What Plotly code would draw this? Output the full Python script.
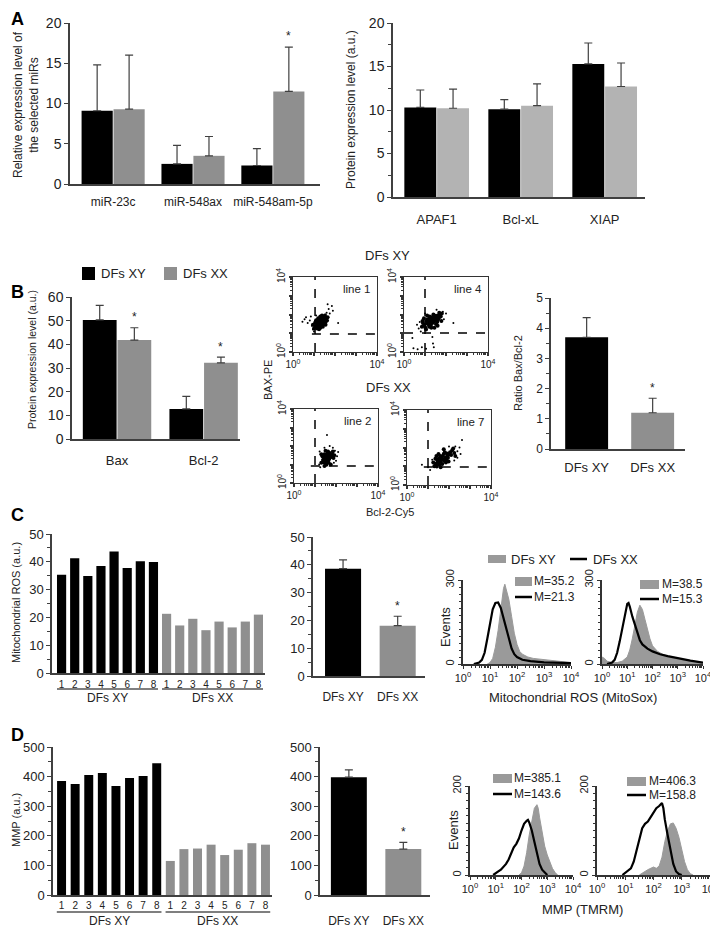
import plotly.graph_objects as go

W, H = 718, 928
OFF = 8  # the page body margin shifts the figure by this many pixels
FONT = "Arial, Liberation Sans, sans-serif"
BLACK = "#000000"
GRAY = "#8f8f8f"
LGRAY = "#b3b3b3"
HGRAY = "#9a9a9a"
AXC = "#404040"
TXT = "#222222"

# ---------------- data ----------------
mir_cats = ["miR-23c", "miR-548ax", "miR-548am-5p"]
mir_xy = [9.1, 2.5, 2.3]
mir_xy_err = [5.7, 2.3, 2.1]
mir_xx = [9.3, 3.5, 11.5]
mir_xx_err = [6.7, 2.4, 5.5]

prot_cats = ["APAF1", "Bcl-xL", "XIAP"]
prot_xy = [10.3, 10.1, 15.3]
prot_xy_err = [2.0, 1.1, 2.4]
prot_xx = [10.2, 10.5, 12.7]
prot_xx_err = [2.2, 2.5, 2.7]

bax_cats = ["Bax", "Bcl-2"]
bax_xy = [50.3, 12.7]
bax_xy_err = [6.2, 5.3]
bax_xx = [41.8, 32.2]
bax_xx_err = [5.2, 2.4]

group_cats = ["DFs XY", "DFs XX"]
ratio_vals = [3.7, 1.2]
ratio_err = [0.65, 0.48]

line_labels = ["1", "2", "3", "4", "5", "6", "7", "8"]
ros_xy = [35.3, 41.3, 34.9, 38.5, 43.7, 37.8, 40.2, 39.9]
ros_xx = [21.3, 17.1, 19.5, 15.4, 18.5, 16.4, 18.5, 21.0]
ros_mean = [38.6, 18.1]
ros_err = [3.2, 3.4]

mmp_xy = [385, 375, 405, 412, 368, 395, 402, 445]
mmp_xx = [115, 155, 157, 170, 135, 153, 175, 170]
mmp_mean = [398, 155]
mmp_err = [25, 23]

# flow cytometry dot plots (log10 units): dense core + sparse events
flow_titles = ["line 1", "line 4", "line 2", "line 7"]
flow_qx = [1.05, 1.0, 1.0, 1.0]
flow_qy = [0.96, 1.01, 0.92, 0.96]
core1 = [(0.95,1.45),(1.05,1.35),(1.05,1.55),(1.10,1.70),(1.15,1.25),(1.15,1.45),(1.18,1.60),(1.20,1.80),(1.22,1.35),(1.25,1.50),(1.27,1.68),(1.30,1.90),(1.30,1.30),(1.32,1.58),(1.35,1.45),(1.36,1.75),(1.40,1.62),(1.42,1.35),(1.44,1.85),(1.46,1.52),(1.50,1.70),(1.52,1.95),(1.55,1.60),(1.58,1.80),(1.62,1.68),(1.25,1.62),(1.35,1.65),(1.28,1.42),(1.40,1.50),(1.20,1.55),(1.12,1.38),(1.48,1.78),(1.00,1.25),(1.38,1.95),(1.65,1.85),(1.08,1.62),(1.24,1.22),(1.55,1.45)]
sparse1 = [(0.45,1.62),(0.55,1.75),(0.62,1.85),(0.70,1.55),(0.80,1.68),(0.90,1.40),(0.95,1.20),(1.00,1.10),(1.60,2.10),(1.70,2.30),(1.75,2.05),(1.85,2.45),(1.65,2.55),(1.90,2.20),(2.15,1.55),(1.55,2.00),(1.10,1.95),(0.85,1.90)]
core2 = [(1.33,1.70),(1.20,1.60),(1.45,1.80),(1.10,1.55),(1.55,1.85),(1.25,1.75),(1.40,1.62),(1.00,1.48),(1.60,1.95),(1.30,1.85),(1.18,1.45),(1.50,1.70),(1.05,1.65),(1.65,1.80),(1.35,1.55),(1.22,1.90),(1.45,1.95),(0.95,1.40),(1.28,1.40),(1.58,1.60),(1.12,1.75),(1.40,2.00),(1.70,2.00),(1.02,1.30),(1.52,1.50),(1.25,1.58),(1.38,1.78),(1.15,1.62),(1.48,1.88),(1.62,1.72),(0.90,1.55),(1.30,1.30),(1.75,1.90),(1.20,1.35),(0.85,1.35),(0.88,1.65),(1.80,2.05),(1.78,1.65),(1.10,1.95),(1.60,1.40),(0.95,1.80),(1.45,1.30),(1.68,2.10),(1.05,1.20)]
sparse2 = [(0.62,1.45),(0.70,1.25),(0.75,1.60),(0.80,1.10),(0.40,0.75),(0.45,0.20),(0.65,0.15),(0.85,0.25),(1.05,0.18),(1.38,0.45),(1.42,0.25),(1.35,0.80),(1.85,2.15),(1.90,1.75),(2.00,2.05),(2.35,1.55),(1.55,2.25),(1.00,2.05)]
core3 = [(1.57,1.35),(1.48,1.28),(1.66,1.42),(1.52,1.48),(1.62,1.22),(1.42,1.38),(1.72,1.52),(1.55,1.15),(1.45,1.55),(1.68,1.30),(1.38,1.25),(1.60,1.60),(1.50,1.05),(1.78,1.40),(1.35,1.45),(1.65,1.10),(1.58,1.50),(1.48,1.40),(1.70,1.62),(1.40,1.12),(1.82,1.55),(1.54,0.98),(1.62,1.70),(1.30,1.10),(1.30,1.55),(1.88,1.35),(1.85,1.70),(1.45,0.92),(1.75,1.00),(1.50,1.75),(1.92,1.50)]
sparse3 = [(1.57,2.60),(1.70,2.00),(1.85,1.90),(2.10,1.68),(1.95,1.75),(1.22,1.70),(1.20,1.00),(2.00,1.20),(1.45,1.90),(1.90,1.10),(2.05,1.45),(1.25,0.85)]
core4 = [(1.71,1.35),(1.60,1.25),(1.82,1.45),(1.50,1.18),(1.92,1.55),(1.65,1.45),(1.78,1.28),(1.45,1.30),(2.00,1.62),(1.70,1.55),(1.55,1.08),(1.88,1.35),(1.40,1.15),(2.05,1.75),(1.75,1.65),(1.62,1.38),(1.85,1.20),(1.35,1.05),(1.95,1.45),(1.52,1.42),(2.10,1.60),(1.68,1.12),(1.80,1.75),(1.42,0.98),(1.58,1.55),(2.15,1.85),(1.30,1.00),(1.90,1.68),(1.25,1.20),(1.35,1.40),(2.25,1.70),(2.20,1.95),(1.50,1.65),(2.30,1.55),(1.60,0.95),(1.98,1.25),(1.75,1.90),(1.40,1.55)]
sparse4 = [(2.40,1.80),(2.50,2.00),(2.62,2.40),(2.30,2.05),(2.55,1.65),(0.71,1.08),(1.00,0.95),(1.10,0.80),(2.25,1.30),(1.20,1.35),(2.00,2.05),(2.40,1.45)]

# histograms: log10 position, event counts
ros1_gray_x = [0.9,1.0,1.1,1.2,1.3,1.4,1.5,1.55,1.6,1.7,1.8,1.9,2.0,2.1,2.2,2.4,2.6,2.8,3.0,3.2,3.5,3.8,4.0]
ros1_gray_y = [0,5,20,60,120,200,270,285,265,230,170,110,70,45,35,25,20,18,15,12,10,8,5]
ros1_blk_x = [0.4,0.6,0.7,0.8,0.9,1.0,1.1,1.2,1.3,1.4,1.5,1.6,1.7,1.8,1.9,2.0,2.2,2.5,3.0,3.5,4.0]
ros1_blk_y = [0,5,15,40,90,150,195,218,220,200,165,120,85,55,35,25,15,10,6,4,3]
ros2_gray_x = [0.0,0.1,0.2,0.4,0.6,0.8,1.0,1.1,1.2,1.3,1.4,1.5,1.6,1.7,1.8,1.9,2.0,2.2,2.4,2.7,3.0,3.5,4.0]
ros2_gray_y = [25,20,10,5,5,10,25,50,90,140,185,210,195,160,120,90,65,45,35,25,18,10,5]
ros2_blk_x = [0.2,0.4,0.5,0.6,0.7,0.8,0.9,1.0,1.05,1.1,1.2,1.3,1.4,1.5,1.6,1.8,2.0,2.3,2.6,3.0,3.5,4.0]
ros2_blk_y = [0,5,15,40,80,130,180,215,218,205,170,140,110,85,70,55,45,35,28,20,12,5]
ros_m_xy = ["M=35.2", "M=38.5"]
ros_m_xx = ["M=21.3", "M=15.3"]

mmp1_gray_x = [1.9,2.0,2.1,2.2,2.3,2.4,2.5,2.6,2.65,2.7,2.8,2.9,3.0,3.1,3.2,3.3,3.4]
mmp1_gray_y = [0,5,20,50,90,125,150,158,150,130,95,65,45,28,15,6,0]
mmp1_blk_x = [0.9,1.0,1.1,1.2,1.3,1.4,1.5,1.6,1.7,1.8,1.9,2.0,2.1,2.2,2.25,2.3,2.4,2.5,2.6,2.7,2.8,2.9,3.0]
mmp1_blk_y = [0,5,8,12,18,25,35,50,62,70,82,100,115,122,124,118,100,75,48,25,12,5,0]
mmp2_gray_x = [1.5,1.6,1.7,1.8,1.9,2.0,2.1,2.2,2.3,2.4,2.5,2.6,2.7,2.8,2.9,3.0,3.1,3.2,3.3,3.4]
mmp2_gray_y = [0,5,8,12,15,18,15,20,40,75,100,115,117,105,85,55,30,12,3,0]
mmp2_blk_x = [0.9,1.0,1.1,1.2,1.3,1.4,1.5,1.6,1.7,1.8,1.9,2.0,2.1,2.2,2.3,2.35,2.4,2.5,2.6,2.7,2.8,2.9,3.0]
mmp2_blk_y = [0,5,8,15,30,55,85,105,115,120,130,140,150,155,162,150,125,90,55,25,8,2,0]
mmp_m_xy = ["M=385.1", "M=406.3"]
mmp_m_xx = ["M=143.6", "M=158.8"]

decade_vals = [1, 10, 100, 1000, 10000]
decade_text = ["10<sup>0</sup>", "10<sup>1</sup>", "10<sup>2</sup>", "10<sup>3</sup>", "10<sup>4</sup>"]
minor_vals = [m * 10 ** d for d in range(4) for m in range(2, 10)]

# ---------------- helpers ----------------
fig = go.Figure()
layout = {}
ann = []
shapes = []


def px(x):
    return (x - OFF) / W


def py(y):
    return 1 - (y - OFF) / H


def add_axes(i, x0, x1, ytop, ybot, xkw, ykw):
    xn = "xaxis" if i == 1 else f"xaxis{i}"
    yn = "yaxis" if i == 1 else f"yaxis{i}"
    xr = "x" if i == 1 else f"x{i}"
    yr = "y" if i == 1 else f"y{i}"
    layout[xn] = dict(domain=[px(x0), px(x1)], anchor=yr, automargin=False, **xkw)
    layout[yn] = dict(domain=[py(ybot), py(ytop)], anchor=xr, automargin=False, **ykw)
    return xr, yr


def bar_x(rng, tickvals, ticktext, size=12, pad=6):
    return dict(range=rng, tickmode="array", tickvals=tickvals, ticktext=ticktext,
                showline=True, linecolor=AXC, linewidth=1.5, ticks="outside",
                ticklen=pad, tickcolor="rgba(0,0,0,0)", showgrid=False, zeroline=False,
                tickfont=dict(family=FONT, size=size, color=TXT), fixedrange=True)


def bar_y(rng, dtick, minor=None, size=13):
    d = dict(range=rng, dtick=dtick, tick0=0, showline=True, linecolor=AXC, linewidth=1.5,
             ticks="outside", ticklen=4, tickcolor=AXC, tickwidth=1.2, showgrid=False,
             zeroline=False, tickfont=dict(family=FONT, size=size, color=TXT), fixedrange=True)
    if minor:
        d["minor"] = dict(dtick=minor, tick0=0, ticks="outside", ticklen=3, tickcolor=AXC, tickwidth=1)
    return d


def bars(xr, yr, xs, ys, color, width, errs=None):
    kw = {}
    if errs is not None:
        kw["error_y"] = dict(type="data", symmetric=False, array=errs, arrayminus=[0] * len(errs),
                             color=AXC, thickness=1.2, width=4)
    fig.add_trace(go.Bar(x=xs, y=ys, width=width, marker=dict(color=color, line=dict(width=0)),
                         xaxis=xr, yaxis=yr, showlegend=False, hoverinfo="skip", **kw))


def text(x, y, s, size=12, angle=0, anchor="center", bold=False, color=TXT):
    if bold:
        s = f"<b>{s}</b>"
    ann.append(dict(x=px(x), y=py(y), xref="paper", yref="paper", text=s, showarrow=False,
                    font=dict(family=FONT, size=size, color=color), textangle=angle,
                    xanchor=anchor, yanchor="middle", borderpad=0))


def star(xr, yr, x, y):
    ann.append(dict(x=x, y=y, xref=xr, yref=yr, text="*", showarrow=False, yanchor="bottom",
                    font=dict(family=FONT, size=12, color=TXT), yshift=-2))


def rect(x0, y0, x1, y1, color):
    shapes.append(dict(type="rect", xref="paper", yref="paper", x0=px(x0), x1=px(x1),
                       y0=py(y1), y1=py(y0), fillcolor=color, line=dict(width=0)))


def hline(x0, x1, y, color=BLACK, width=2.5):
    shapes.append(dict(type="line", xref="paper", yref="paper", x0=px(x0), x1=px(x1),
                       y0=py(y), y1=py(y), line=dict(color=color, width=width)))


# ---------------- Panel A ----------------
text(10, 19, "A", size=18, anchor="left", bold=True, color=BLACK)
n = len(mir_cats)
xr, yr = add_axes(1, 70, 320, 23, 184,
                  bar_x([-0.54, 2.59], list(range(n)), mir_cats, size=12, pad=6),
                  bar_y([0, 20], 5, size=14))
bars(xr, yr, [i - 0.2 for i in range(n)], mir_xy, BLACK, 0.39, mir_xy_err)
bars(xr, yr, [i + 0.2 for i in range(n)], mir_xx, GRAY, 0.39, mir_xx_err)
star(xr, yr, 2 + 0.2, mir_xx[2] + mir_xx_err[2] + 0.5)
text(26, 105, "Relative expression level of<br>the selected miRs", size=12, angle=-90)

n = len(prot_cats)
xr, yr = add_axes(2, 393, 645, 23, 197,
                  bar_x([-0.52, 2.48], list(range(n)), prot_cats, size=13, pad=10),
                  bar_y([0, 20], 5, minor=2.5, size=14))
bars(xr, yr, [i - 0.195 for i in range(n)], prot_xy, BLACK, 0.38, prot_xy_err)
bars(xr, yr, [i + 0.195 for i in range(n)], prot_xx, LGRAY, 0.38, prot_xx_err)
text(351, 110, "Protein expression level (a.u.)", size=12, angle=-90)

# ---------------- Panel B ----------------
text(10, 292, "B", size=18, anchor="left", bold=True, color=BLACK)
n = len(bax_cats)
xr, yr = add_axes(3, 72, 240, 297, 439,
                  bar_x([-0.52, 1.42], list(range(n)), bax_cats, size=13, pad=9),
                  bar_y([0, 60], 10, size=14))
bars(xr, yr, [i - 0.2 for i in range(n)], bax_xy, BLACK, 0.39, bax_xy_err)
bars(xr, yr, [i + 0.2 for i in range(n)], bax_xx, GRAY, 0.39, bax_xx_err)
for i in range(n):
    star(xr, yr, i + 0.2, bax_xx[i] + bax_xx_err[i] + 1.5)
text(32, 360, "Protein expression level (a.u.)", size=10.5, angle=-90)
rect(82, 267, 95, 280, BLACK)
text(100, 273, "DFs XY", size=13, anchor="left")
rect(164, 267, 177, 280, GRAY)
text(182, 273, "DFs XX", size=13, anchor="left")

# flow dot plots
flow_boxes = [(293, 377, 277, 352), (404, 488, 277, 352), (294, 378, 409, 483), (407, 491, 410, 485)]
flow_core = [core1, core2, core3, core4]
flow_sparse = [sparse1, sparse2, sparse3, sparse4]
flow_hstart = [0.9, 0.0, 0.8, 0.8]
for k in range(4):
    x0, x1, yt, yb = flow_boxes[k]
    common = dict(type="log", range=[0, 4], showline=True, mirror=True, linecolor="#333",
                  linewidth=1.2, ticks="outside", ticklen=3, tickcolor="#333", tickwidth=1.5,
                  tickmode="array", tickvals=decade_vals,
                  ticktext=[decade_text[0], "", "", "", decade_text[4]],
                  minor=dict(tickmode="array", tickvals=minor_vals, ticks="outside", ticklen=2,
                             tickcolor="#333", tickwidth=1),
                  showgrid=False, zeroline=False, fixedrange=True,
                  tickfont=dict(family=FONT, size=10, color=TXT))
    ykw = dict(common)
    ykw["tickangle"] = -90
    xr, yr = add_axes(4 + k, x0, x1, yt, yb, dict(common), ykw)
    cx = [10 ** p[0] for p in flow_core[k]]
    cy = [10 ** p[1] for p in flow_core[k]]
    sx = [10 ** p[0] for p in flow_sparse[k]]
    sy = [10 ** p[1] for p in flow_sparse[k]]
    fig.add_trace(go.Scatter(x=sx, y=sy, mode="markers", marker=dict(color=BLACK, size=2),
                             xaxis=xr, yaxis=yr, showlegend=False, hoverinfo="skip"))
    fig.add_trace(go.Scatter(x=cx, y=cy, mode="markers", marker=dict(color=BLACK, size=4),
                             xaxis=xr, yaxis=yr, showlegend=False, hoverinfo="skip"))
    shapes.append(dict(type="line", xref=xr, yref=yr, x0=10 ** flow_qx[k], x1=10 ** flow_qx[k],
                       y0=1, y1=10000, line=dict(color=BLACK, width=1.5, dash="dash")))
    shapes.append(dict(type="line", xref=xr, yref=yr, x0=10 ** flow_hstart[k], x1=10000,
                       y0=10 ** flow_qy[k], y1=10 ** flow_qy[k],
                       line=dict(color=BLACK, width=1.5, dash="dash")))
    text(x1 - 5, yt + 12, flow_titles[k], size=11.5, anchor="right")
text(387, 255, "DFs XY", size=13)
text(388, 387, "DFs XX", size=13)
text(268, 380, "BAX-PE", size=11, angle=-90)
text(390, 512, "Bcl-2-Cy5", size=11)

# ratio
xr, yr = add_axes(8, 551, 685, 298, 449,
                  bar_x([-0.54, 1.49], [0, 1], group_cats, size=13, pad=6),
                  bar_y([0, 5], 1, minor=0.5, size=12))
bars(xr, yr, [0, 1], ratio_vals, [BLACK, GRAY], 0.65, ratio_err)
star(xr, yr, 1, ratio_vals[1] + ratio_err[1] + 0.12)
text(518, 373, "Ratio Bax/Bcl-2", size=11, angle=-90)

# ---------------- Panel C ----------------
text(10, 515, "C", size=18, anchor="left", bold=True, color=BLACK)
pos = list(range(16))
xr, yr = add_axes(9, 52, 265, 534, 673,
                  bar_x([-0.73, 15.5], pos, line_labels + line_labels, size=10, pad=1),
                  bar_y([0, 50], 10, minor=5, size=13))
bars(xr, yr, pos[:8], ros_xy, BLACK, 0.7)
bars(xr, yr, pos[8:], ros_xx, GRAY, 0.7)
for a, b, lab in [(-0.35, 7.35, "DFs XY"), (7.65, 15.35, "DFs XX")]:
    shapes.append(dict(type="line", xref=xr, yref="paper", x0=a, x1=b, y0=py(689), y1=py(689),
                       line=dict(color="#555", width=1.5)))
    ann.append(dict(x=(a + b) / 2, y=py(698), xref=xr, yref="paper", text=lab, showarrow=False,
                    font=dict(family=FONT, size=12, color=TXT), yanchor="middle"))
text(16, 603, "Mitochondrial ROS (a.u.)", size=11, angle=-90)

xr, yr = add_axes(10, 313, 425, 537, 676,
                  bar_x([-0.55, 1.5], [0, 1], group_cats, size=12, pad=9),
                  bar_y([0, 50], 10, minor=5, size=13))
bars(xr, yr, [0, 1], ros_mean, [BLACK, GRAY], 0.66, ros_err)
star(xr, yr, 1, ros_mean[1] + ros_err[1] + 1)

hist_c = [(463, 571, ros1_gray_x, ros1_gray_y, ros1_blk_x, ros1_blk_y),
          (602, 703, ros2_gray_x, ros2_gray_y, ros2_blk_x, ros2_blk_y)]
hist_axes_kw = dict(type="log", range=[0, 4], showline=True, linecolor="#333", linewidth=1.5,
                    ticks="outside", ticklen=3, tickcolor="#333", tickwidth=1.2,
                    tickmode="array", tickvals=decade_vals, ticktext=decade_text,
                    minor=dict(tickmode="array", tickvals=minor_vals, ticks="outside", ticklen=2,
                               tickcolor="#333"),
                    showgrid=False, zeroline=False, fixedrange=True,
                    tickfont=dict(family=FONT, size=11, color=TXT))


def hist_y(top):
    return dict(range=[0, top], showline=True, linecolor="#333", linewidth=1.5, ticks="outside",
                ticklen=3, tickcolor="#333", tickmode="array", tickvals=[0, top],
                ticktext=["0", str(top)], tickangle=-90,
                minor=dict(dtick=top / 12, ticks="outside", ticklen=2, tickcolor="#333"),
                showgrid=False, zeroline=False, fixedrange=True,
                tickfont=dict(family=FONT, size=11, color=TXT))


for k, (x0, x1, gx, gy, bx, by) in enumerate(hist_c):
    xr, yr = add_axes(11 + k, x0, x1, 580, 664, dict(hist_axes_kw), hist_y(300))
    fig.add_trace(go.Scatter(x=[10 ** v for v in gx], y=gy, mode="lines", fill="tozeroy",
                             fillcolor=HGRAY, line=dict(color=HGRAY, width=1),
                             xaxis=xr, yaxis=yr, showlegend=False, hoverinfo="skip"))
    fig.add_trace(go.Scatter(x=[10 ** v for v in bx], y=by, mode="lines",
                             line=dict(color=BLACK, width=2.2),
                             xaxis=xr, yaxis=yr, showlegend=False, hoverinfo="skip"))
# C histogram legends
rect(488, 555, 506, 563, HGRAY)
text(510, 559, "DFs XY", size=13, anchor="left")
hline(570, 587, 559)
text(592, 559, "DFs XX", size=13, anchor="left")
rect(515, 577, 532, 586, HGRAY)
text(533, 581, ros_m_xy[0], size=12, anchor="left")
hline(515, 532, 597)
text(533, 597, ros_m_xx[0], size=12, anchor="left")
rect(640, 580, 659, 589, HGRAY)
text(661, 584, ros_m_xy[1], size=12, anchor="left")
hline(640, 659, 599)
text(661, 599, ros_m_xx[1], size=12, anchor="left")
text(445, 627, "Events", size=13, angle=-90)
text(573, 697, "Mitochondrial ROS (MitoSox)", size=13)

# ---------------- Panel D ----------------
text(10, 735, "D", size=18, anchor="left", bold=True, color=BLACK)
xr, yr = add_axes(13, 53, 272, 747, 895,
                  bar_x([-0.63, 15.48], pos, line_labels + line_labels, size=10, pad=0),
                  bar_y([0, 500], 100, minor=50, size=13))
bars(xr, yr, pos[:8], mmp_xy, BLACK, 0.66)
bars(xr, yr, pos[8:], mmp_xx, GRAY, 0.66)
for a, b, lab in [(-0.35, 7.35, "DFs XY"), (7.65, 15.35, "DFs XX")]:
    shapes.append(dict(type="line", xref=xr, yref="paper", x0=a, x1=b, y0=py(912), y1=py(912),
                       line=dict(color="#555", width=1.5)))
    ann.append(dict(x=(a + b) / 2, y=py(921), xref=xr, yref="paper", text=lab, showarrow=False,
                    font=dict(family=FONT, size=12, color=TXT), yanchor="middle"))
text(16, 820, "MMP (a.u.)", size=11, angle=-90)

xr, yr = add_axes(14, 320, 430, 747, 895,
                  bar_x([-0.53, 1.49], [0, 1], group_cats, size=12, pad=14),
                  bar_y([0, 500], 100, minor=50, size=13))
bars(xr, yr, [0, 1], mmp_mean, [BLACK, GRAY], 0.66, mmp_err)
star(xr, yr, 1, mmp_mean[1] + mmp_err[1] + 10)

hist_d = [(470, 573, mmp1_gray_x, mmp1_gray_y, mmp1_blk_x, mmp1_blk_y),
          (597, 710, mmp2_gray_x, mmp2_gray_y, mmp2_blk_x, mmp2_blk_y)]
for k, (x0, x1, gx, gy, bx, by) in enumerate(hist_d):
    xr, yr = add_axes(15 + k, x0, x1, 786, 875, dict(hist_axes_kw), hist_y(200))
    fig.add_trace(go.Scatter(x=[10 ** v for v in gx], y=gy, mode="lines", fill="tozeroy",
                             fillcolor=HGRAY, line=dict(color=HGRAY, width=1),
                             xaxis=xr, yaxis=yr, showlegend=False, hoverinfo="skip"))
    fig.add_trace(go.Scatter(x=[10 ** v for v in bx], y=by, mode="lines",
                             line=dict(color=BLACK, width=2.2),
                             xaxis=xr, yaxis=yr, showlegend=False, hoverinfo="skip"))
rect(493, 774, 512, 783, HGRAY)
text(513, 778, mmp_m_xy[0], size=12, anchor="left")
hline(493, 512, 794)
text(513, 794, mmp_m_xx[0], size=12, anchor="left")
rect(627, 777, 646, 786, HGRAY)
text(648, 781, mmp_m_xy[1], size=12, anchor="left")
hline(627, 646, 795)
text(648, 795, mmp_m_xx[1], size=12, anchor="left")
text(453, 830, "Events", size=13, angle=-90)
text(582, 909, "MMP (TMRM)", size=13)

fig.update_layout(template="none", width=W, height=H, margin=dict(l=0, r=0, t=0, b=0, pad=0),
                  paper_bgcolor="white", plot_bgcolor="white", barmode="overlay",
                  showlegend=False, font=dict(family=FONT, color=TXT),
                  annotations=ann, shapes=shapes, **layout)
fig.write_html("out.html")
